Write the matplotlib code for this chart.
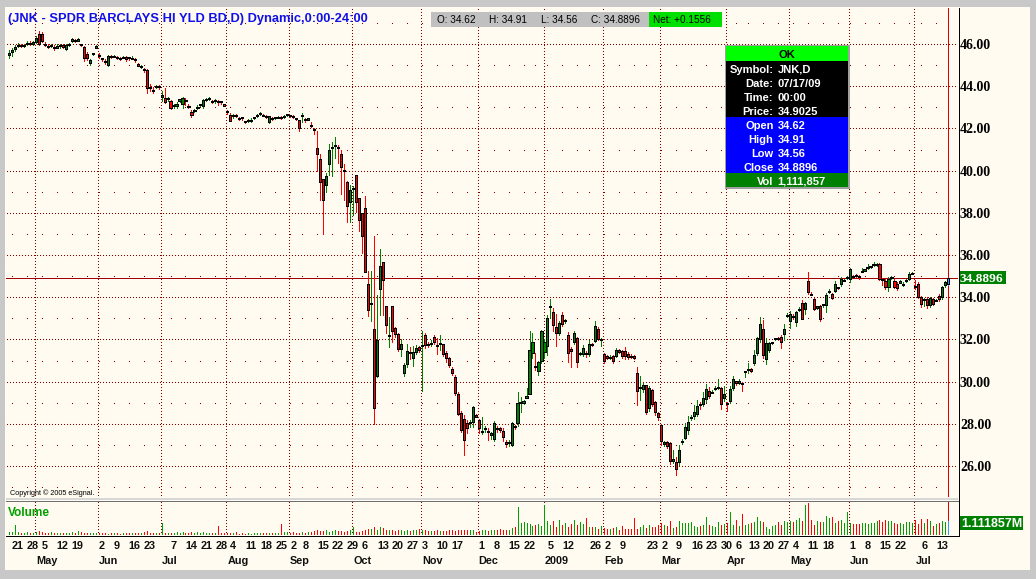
import matplotlib
matplotlib.use("Agg")
import matplotlib.pyplot as plt
from matplotlib.patches import Rectangle
from matplotlib.lines import Line2D
import numpy as np
import pandas as pd

plt.rcParams['lines.antialiased'] = False
plt.rcParams['patch.antialiased'] = False

W, H, DPI = 1036, 579, 100

# ---------------- data ----------------
holidays = ["2008-05-26", "2008-07-04", "2008-09-01", "2008-11-27", "2008-12-25",
            "2009-01-01", "2009-01-19", "2009-02-16", "2009-04-10", "2009-05-25", "2009-07-03"]
dates = pd.bdate_range("2008-04-18", "2009-07-17", freq="C", holidays=holidays)

opens = [
    45.50, 45.62, 45.78, 45.90, 45.95, 45.92, 45.98, 46.06, 46.02, 46.10,
    46.47, 46.47, 46.02, 45.90, 45.90, 45.86, 45.82, 45.90, 45.93, 45.78,
    45.95, 46.15, 46.20, 46.15, 45.97, 45.84, 45.52, 45.10, 45.55, 45.80,
    45.45, 45.30, 45.20, 45.02, 45.40, 45.40, 45.38, 45.32, 45.36, 45.38,
    45.36, 45.30, 45.30, 45.05, 44.92, 44.82, 44.78, 43.95, 43.83, 43.98,
    44.00, 43.48, 43.46, 43.40, 43.30, 43.05, 43.06, 43.33, 43.17, 43.32,
    43.05, 42.80, 42.85, 42.95, 43.12, 43.04, 43.36, 43.42, 43.27, 43.30,
    43.26, 43.27, 43.12, 42.80, 42.63, 42.61, 42.60, 42.48, 42.52, 42.32,
    42.34, 42.36, 42.48, 42.62, 42.70, 42.63, 42.56, 42.28, 42.48, 42.50,
    42.53, 42.52, 42.56, 42.64, 42.60, 42.56, 42.46, 42.38, 42.60, 42.42,
    42.44, 42.15, 41.95, 41.05, 40.57, 39.60, 39.30, 40.33, 41.05, 41.18,
    41.12, 40.78, 40.05, 39.48, 38.50, 39.16, 39.80, 38.70, 38.00, 38.24,
    34.64, 33.70, 32.50, 30.25, 34.38, 35.67, 33.60, 32.15, 33.60, 32.55,
    32.25, 31.55, 30.40, 30.85, 31.40, 31.10, 31.40, 31.62, 31.70, 32.20,
    31.78, 31.78, 32.10, 31.72, 31.78, 31.76, 31.37, 31.10, 30.62, 30.20,
    29.43, 28.50, 28.24, 28.05, 28.02, 28.08, 28.37, 28.16, 27.60, 27.78,
    27.65, 27.45, 27.30, 27.76, 27.78, 27.68, 27.15, 27.10, 27.00, 27.86,
    28.05, 29.00, 29.00, 29.27, 29.43, 31.35, 30.70, 30.48, 30.98, 31.38,
    31.70, 33.55, 33.29, 32.57, 32.29, 33.16, 32.89, 32.20, 31.55, 31.86,
    32.05, 31.35, 31.30, 31.35, 31.30, 31.78, 31.94, 32.50, 32.00, 31.30,
    31.18, 31.12, 31.22, 31.20, 31.45, 31.46, 31.44, 31.33, 31.22, 31.18,
    30.40, 29.70, 29.65, 29.84, 28.75, 29.60, 29.05, 28.50, 27.94, 27.05,
    27.15, 27.08, 26.22, 26.20, 26.20, 27.12, 27.35, 27.70, 28.30, 28.35,
    28.46, 28.95, 28.95, 29.17, 29.57, 29.50, 29.65, 29.70, 29.70, 29.20,
    29.00, 29.08, 29.70, 29.98, 29.98, 29.92, 30.46, 30.55, 30.62, 30.86,
    31.37, 32.03, 32.50, 31.05, 31.52, 31.84, 32.00, 32.03, 32.10, 32.25,
    33.14, 32.88, 33.10, 32.83, 33.40, 33.73, 33.42, 34.78, 34.15, 33.90,
    33.52, 33.58, 33.65, 33.65, 34.25, 34.15, 34.30, 34.44, 34.63, 34.78,
    34.92, 34.88, 35.00, 35.02, 35.00, 35.22, 35.28, 35.40, 35.45, 35.56,
    35.56, 35.56, 34.83, 34.78, 34.50, 34.92, 34.78, 34.63, 34.72, 34.60,
    34.78, 34.86, 35.12, 34.55, 34.63, 34.00, 33.88, 33.90, 33.63, 33.90,
    33.85, 34.08, 34.00, 34.56, 34.62]

highs = [
    45.70, 45.80, 45.95, 46.05, 46.02, 46.00, 46.15, 46.12, 46.15, 46.40,
    46.62, 46.55, 46.10, 45.98, 46.02, 45.95, 45.98, 45.98, 45.98, 45.98,
    46.05, 46.28, 46.24, 46.28, 46.00, 45.90, 45.60, 45.30, 45.58, 45.95,
    45.55, 45.35, 45.28, 45.50, 45.48, 45.48, 45.45, 45.40, 45.45, 45.42,
    45.40, 45.45, 45.35, 45.10, 45.00, 44.88, 44.80, 44.10, 43.95, 44.05,
    44.05, 43.75, 43.90, 43.48, 43.35, 43.15, 43.25, 43.40, 43.50, 43.42,
    43.15, 42.85, 42.92, 43.10, 43.18, 43.40, 43.42, 43.50, 43.35, 43.38,
    43.35, 43.32, 43.15, 42.85, 42.75, 42.66, 42.68, 42.55, 42.55, 42.36,
    42.45, 42.48, 42.55, 42.68, 42.76, 42.68, 42.62, 42.60, 42.55, 42.56,
    42.60, 42.58, 42.62, 42.70, 42.65, 42.62, 42.50, 42.42, 42.72, 42.48,
    42.50, 42.30, 42.00, 41.90, 40.80, 39.60, 39.90, 41.25, 41.35, 41.60,
    41.20, 41.00, 40.30, 39.50, 39.30, 39.25, 39.80, 38.70, 38.00, 38.80,
    35.25, 35.25, 36.90, 34.10, 36.30, 35.67, 33.60, 33.05, 33.60, 32.60,
    32.30, 32.00, 30.90, 31.80, 31.65, 31.70, 31.75, 31.70, 32.40, 32.30,
    31.90, 31.95, 32.20, 32.05, 32.20, 31.80, 31.45, 31.15, 30.70, 30.30,
    29.50, 28.60, 28.40, 28.20, 28.20, 28.85, 28.45, 28.22, 28.30, 27.90,
    27.80, 27.60, 28.15, 27.90, 27.85, 27.80, 27.25, 27.25, 28.10, 27.95,
    29.50, 29.25, 29.15, 29.70, 32.40, 32.30, 31.35, 31.00, 32.45, 32.00,
    33.15, 33.90, 33.50, 33.20, 32.85, 33.30, 32.95, 32.33, 31.62, 32.40,
    32.10, 31.42, 31.75, 31.45, 31.95, 31.85, 32.85, 32.60, 32.05, 31.35,
    31.25, 31.25, 31.25, 31.60, 31.55, 31.50, 31.65, 31.40, 31.30, 31.25,
    30.70, 30.25, 29.95, 29.85, 29.80, 29.65, 29.10, 28.55, 28.00, 27.20,
    27.20, 27.15, 26.75, 26.45, 27.00, 27.30, 28.05, 28.35, 28.40, 28.90,
    29.15, 29.05, 29.50, 29.90, 29.75, 29.60, 29.80, 30.10, 29.75, 29.80,
    29.05, 29.80, 30.25, 30.05, 30.10, 30.00, 30.50, 30.90, 30.65, 31.50,
    32.10, 33.05, 32.90, 32.05, 31.90, 31.90, 32.08, 32.10, 32.20, 32.75,
    33.25, 33.35, 33.20, 33.35, 33.55, 33.85, 33.75, 35.20, 34.25, 33.95,
    33.60, 33.65, 33.70, 34.20, 34.40, 34.20, 34.75, 34.50, 34.95, 34.85,
    35.00, 35.40, 35.05, 35.10, 35.05, 35.40, 35.35, 35.55, 35.50, 35.65,
    35.60, 35.60, 34.90, 34.85, 34.95, 35.00, 34.85, 34.70, 34.80, 34.70,
    34.85, 35.20, 35.20, 34.80, 34.70, 34.05, 33.95, 34.00, 34.00, 33.95,
    33.90, 34.15, 34.55, 34.75, 34.91]

lows = [
    45.35, 45.45, 45.65, 45.85, 45.85, 45.85, 45.95, 45.95, 45.95, 46.05,
    45.95, 46.10, 45.92, 45.80, 45.85, 45.72, 45.80, 45.80, 45.82, 45.72,
    45.92, 46.10, 46.10, 46.12, 45.92, 45.20, 45.25, 45.00, 45.50, 45.80,
    45.35, 45.20, 45.05, 44.95, 45.35, 45.38, 45.28, 45.25, 45.32, 45.20,
    45.25, 45.28, 45.15, 44.95, 44.88, 44.65, 43.70, 43.75, 43.70, 43.90,
    43.85, 43.30, 43.20, 43.30, 42.90, 42.95, 42.98, 43.25, 42.95, 43.10,
    42.95, 42.55, 42.80, 42.90, 43.05, 42.98, 43.30, 43.35, 43.20, 43.20,
    43.10, 43.18, 43.05, 42.70, 42.35, 42.50, 42.55, 42.40, 42.42, 42.25,
    42.30, 42.30, 42.45, 42.55, 42.65, 42.58, 42.50, 42.25, 42.42, 42.45,
    42.50, 42.45, 42.50, 42.60, 42.55, 42.50, 42.40, 41.90, 42.30, 42.30,
    42.38, 42.05, 41.75, 40.00, 38.60, 37.00, 39.00, 39.80, 39.75, 40.60,
    40.35, 38.90, 38.60, 37.55, 37.55, 37.90, 38.05, 37.15, 36.10, 35.20,
    33.10, 32.85, 28.00, 30.20, 33.15, 33.15, 32.30, 31.65, 31.90, 32.10,
    31.45, 31.20, 30.25, 30.70, 31.05, 30.75, 31.30, 31.40, 29.55, 31.60,
    31.65, 31.70, 31.80, 31.30, 31.50, 31.20, 30.95, 30.70, 30.30, 29.35,
    28.40, 27.60, 26.50, 27.55, 27.85, 27.85, 28.30, 27.55, 27.50, 27.60,
    27.25, 27.30, 27.20, 27.60, 27.60, 27.20, 26.90, 26.95, 26.95, 27.75,
    27.90, 28.55, 28.95, 29.20, 29.40, 31.10, 30.55, 30.30, 30.90, 31.10,
    31.25, 33.00, 32.40, 31.70, 32.20, 32.65, 32.80, 30.95, 30.70, 31.80,
    30.70, 31.25, 31.20, 31.15, 31.20, 31.70, 31.90, 31.95, 31.70, 30.90,
    31.05, 31.05, 30.90, 31.15, 31.35, 31.10, 31.05, 31.05, 31.10, 31.05,
    28.90, 29.15, 29.50, 28.45, 28.60, 28.85, 28.40, 28.20, 27.00, 26.95,
    26.85, 26.10, 26.15, 25.57, 26.05, 27.05, 27.30, 27.50, 28.20, 28.25,
    28.35, 28.70, 28.85, 29.05, 29.20, 29.45, 29.60, 29.65, 28.70, 29.10,
    28.60, 29.00, 29.60, 29.85, 29.90, 29.55, 30.20, 30.40, 30.45, 30.80,
    31.25, 31.90, 31.10, 30.85, 31.40, 31.80, 31.95, 31.95, 31.60, 31.95,
    33.05, 32.55, 32.95, 32.65, 33.35, 32.95, 33.20, 34.15, 34.10, 33.40,
    33.45, 32.85, 33.55, 33.30, 34.20, 33.90, 34.25, 34.40, 34.55, 34.75,
    34.85, 34.70, 34.95, 34.98, 34.85, 35.20, 35.25, 35.35, 35.40, 35.50,
    35.50, 34.80, 34.60, 34.40, 34.30, 34.85, 34.45, 34.35, 34.65, 34.55,
    34.70, 34.80, 35.10, 34.40, 33.95, 33.55, 33.60, 33.50, 33.55, 33.65,
    33.80, 33.80, 33.90, 34.50, 34.56]

closes = [
    45.58, 45.72, 45.85, 45.97, 45.90, 45.94, 46.06, 46.02, 46.08, 46.30,
    46.00, 46.15, 45.97, 45.84, 45.96, 45.80, 45.92, 45.93, 45.88, 45.95,
    46.00, 46.22, 46.15, 46.24, 45.95, 45.33, 45.33, 45.25, 45.55, 45.90,
    45.42, 45.30, 45.16, 45.43, 45.40, 45.43, 45.33, 45.29, 45.38, 45.30,
    45.32, 45.36, 45.24, 44.98, 44.93, 44.78, 43.92, 43.93, 43.78, 44.00,
    43.95, 43.58, 43.23, 43.43, 42.98, 43.10, 43.14, 43.36, 43.42, 43.30,
    43.02, 42.63, 42.88, 42.99, 43.15, 43.34, 43.39, 43.44, 43.25, 43.33,
    43.25, 43.24, 43.10, 42.79, 42.36, 42.63, 42.60, 42.47, 42.50, 42.30,
    42.40, 42.40, 42.52, 42.63, 42.72, 42.63, 42.55, 42.58, 42.47, 42.53,
    42.53, 42.52, 42.57, 42.67, 42.60, 42.54, 42.45, 42.03, 42.60, 42.38,
    42.45, 42.15, 41.95, 40.78, 39.46, 38.60, 39.75, 41.00, 41.10, 41.22,
    41.05, 40.19, 40.00, 38.30, 39.10, 39.16, 38.50, 37.65, 36.90, 35.20,
    33.37, 33.70, 28.75, 31.97, 35.46, 34.80, 32.70, 32.20, 32.40, 32.25,
    31.55, 31.80, 30.80, 31.45, 31.40, 31.40, 31.57, 31.50, 31.72, 31.73,
    31.75, 31.85, 31.90, 31.70, 31.80, 31.30, 31.13, 30.80, 30.40, 29.48,
    28.48, 27.70, 27.22, 27.80, 28.10, 28.80, 28.37, 27.80, 27.68, 27.80,
    27.65, 27.55, 28.05, 27.76, 27.72, 27.38, 27.05, 27.10, 28.05, 27.86,
    29.00, 29.00, 29.07, 29.27, 31.50, 31.86, 30.70, 30.95, 32.38, 31.90,
    33.00, 33.60, 32.70, 32.29, 32.76, 32.73, 32.89, 31.35, 31.45, 32.29,
    30.95, 31.35, 31.60, 31.33, 31.80, 31.78, 32.62, 32.00, 32.00, 30.98,
    31.15, 31.15, 31.00, 31.48, 31.45, 31.20, 31.20, 31.17, 31.20, 31.15,
    29.54, 29.70, 29.85, 28.54, 29.70, 28.95, 28.54, 28.30, 27.20, 27.12,
    26.97, 26.25, 26.32, 25.85, 26.75, 27.20, 27.84, 28.10, 28.30, 28.57,
    28.86, 28.90, 29.22, 29.65, 29.30, 29.50, 29.70, 29.70, 28.94, 29.40,
    28.95, 29.67, 30.13, 29.98, 29.98, 29.92, 30.46, 30.62, 30.50, 31.24,
    32.08, 32.75, 31.24, 31.84, 31.84, 31.84, 32.05, 32.03, 31.90, 32.48,
    33.14, 33.22, 33.10, 33.30, 33.45, 32.98, 33.73, 34.23, 34.15, 33.45,
    33.55, 32.98, 33.65, 34.10, 34.30, 33.97, 34.63, 34.44, 34.86, 34.80,
    34.95, 35.34, 35.00, 35.00, 34.95, 35.22, 35.30, 35.40, 35.45, 35.56,
    35.56, 34.86, 34.83, 34.48, 34.86, 34.95, 34.48, 34.44, 34.72, 34.62,
    34.80, 35.10, 35.15, 34.48, 34.00, 33.66, 33.90, 33.63, 33.97, 33.70,
    33.85, 33.90, 34.50, 34.72, 34.8896]

# volume in millions of shares
volumes = [
    0.20, 0.25, 0.78, 0.20, 0.15, 0.18, 0.20, 0.15, 0.18,                         # Apr 08
    0.20, 0.30, 0.20, 0.15, 0.18, 0.20, 0.15, 0.13, 0.15, 0.18, 0.15,
    0.15, 0.20, 0.15, 0.30, 0.20, 0.15, 0.18, 0.13, 0.12, 0.15,                   # May
    0.13, 0.12, 0.13, 0.10, 0.12, 0.13, 0.12, 0.10, 0.12, 0.13, 0.12,
    0.13, 0.15, 0.12, 0.15, 0.20, 0.30, 0.15, 0.13, 0.15, 0.12,                   # Jun
    0.90, 0.15, 0.13, 0.15, 0.13, 0.25, 0.15, 0.20, 0.13, 0.15, 0.20,
    0.15, 0.20, 0.15, 0.20, 0.15, 0.13, 0.12, 0.15, 0.70, 0.15, 0.12,             # Jul
    0.13, 0.15, 0.12, 0.25, 0.10, 0.12, 0.10, 0.12, 0.10, 0.12, 0.13,
    0.12, 0.12, 0.15, 0.12, 0.13, 0.15, 0.12, 0.85, 0.25, 0.20,                   # Aug
    0.15, 0.20, 0.15, 0.15, 0.20, 0.15, 0.20, 0.25, 0.30, 0.35, 0.30,
    0.30, 0.35, 0.25, 0.30, 0.35, 0.30, 0.30, 0.25, 0.30, 0.35,                   # Sep
    0.65, 0.20, 0.25, 0.30, 0.35, 0.45, 0.50, 0.60, 0.40, 0.60, 0.55, 0.40,
    0.35, 0.40, 0.30, 0.35, 0.40, 0.30, 0.35, 0.30, 0.40, 0.35, 0.50,             # Oct
    0.40, 0.35, 0.30, 0.30, 0.30, 0.35, 0.30, 0.30, 0.30, 0.35,
    0.35, 0.30, 0.35, 0.40, 0.40, 0.35, 0.35, 0.35, 0.20,                         # Nov
    0.30, 0.35, 0.40, 0.30, 0.35, 0.35, 0.40, 0.50, 0.40, 0.35, 0.35,
    0.55, 0.65, 2.20, 0.95, 1.00, 0.90, 0.85, 0.70, 0.80, 0.85, 0.70,             # Dec
    2.30, 1.05, 0.80, 1.10, 0.60, 1.15, 0.80, 0.95, 0.60, 0.85,
    1.20, 0.75, 1.00, 0.85, 1.30, 0.65, 0.60, 0.65, 0.50, 0.70,                   # Jan 09
    0.55, 0.50, 0.45, 0.55, 0.60, 0.35, 0.70, 0.50, 0.45, 0.50,
    1.30, 0.45, 0.60, 0.75, 0.55, 0.80, 0.65, 0.60, 0.80,                         # Feb
    0.90, 0.80, 0.70, 1.10, 0.55, 0.65, 1.10, 0.95, 0.90, 0.95, 1.00,
    0.70, 0.60, 0.70, 0.75, 1.40, 0.80, 0.70, 0.60, 1.00, 0.75, 0.85,             # Mar
    0.90, 1.80, 0.80, 1.20, 0.70, 1.65, 0.75, 0.85, 0.95, 1.00, 1.40,
    1.05, 1.00, 0.60, 0.50, 0.70, 0.80, 1.00, 0.75, 1.05, 1.00,                   # Apr
    1.05, 1.00, 1.20, 1.30, 1.10, 2.30, 2.45, 1.20, 0.80, 1.10,
    1.00, 1.00, 1.50, 1.35, 1.40, 0.90, 1.10, 1.15, 0.90, 1.75,                   # May
    0.90, 0.85, 0.85, 0.85, 0.90, 0.95, 0.85, 0.95, 0.95, 1.10, 1.15,
    1.00, 1.20, 1.05, 1.10, 0.90, 0.85, 0.90, 0.85, 1.00, 1.00, 0.90,             # Jun
    1.20, 0.85, 1.25, 0.95, 1.25, 1.05, 0.70, 0.85, 0.95, 1.10, 1.00, 1.111857]  # Jul

week_labels = [
    ("2008-04-21", "21"), ("2008-04-28", "28"), ("2008-05-05", "5"), ("2008-05-12", "12"),
    ("2008-05-19", "19"), ("2008-06-02", "2"), ("2008-06-09", "9"), ("2008-06-16", "16"),
    ("2008-06-23", "23"), ("2008-07-07", "7"), ("2008-07-14", "14"), ("2008-07-21", "21"),
    ("2008-07-28", "28"), ("2008-08-04", "4"), ("2008-08-11", "11"), ("2008-08-18", "18"),
    ("2008-08-25", "25"), ("2008-09-02", "2"), ("2008-09-08", "8"), ("2008-09-15", "15"),
    ("2008-09-22", "22"), ("2008-09-29", "29"), ("2008-10-06", "6"), ("2008-10-13", "13"),
    ("2008-10-20", "20"), ("2008-10-27", "27"), ("2008-11-03", "3"), ("2008-11-10", "10"),
    ("2008-11-17", "17"), ("2008-12-01", "1"), ("2008-12-08", "8"), ("2008-12-15", "15"),
    ("2008-12-22", "22"), ("2009-01-05", "5"), ("2009-01-12", "12"), ("2009-01-26", "26"),
    ("2009-02-02", "2"), ("2009-02-09", "9"), ("2009-02-23", "23"), ("2009-03-02", "2"),
    ("2009-03-09", "9"), ("2009-03-16", "16"), ("2009-03-23", "23"), ("2009-03-30", "30"),
    ("2009-04-06", "6"), ("2009-04-13", "13"), ("2009-04-20", "20"), ("2009-04-27", "27"),
    ("2009-05-04", "4"), ("2009-05-11", "11"), ("2009-05-18", "18"), ("2009-06-01", "1"),
    ("2009-06-08", "8"), ("2009-06-15", "15"), ("2009-06-22", "22"), ("2009-07-06", "6"),
    ("2009-07-13", "13")]

month_labels = [
    ("2008-05-01", "May"), ("2008-06-02", "Jun"), ("2008-07-01", "Jul"), ("2008-08-01", "Aug"),
    ("2008-09-02", "Sep"), ("2008-10-01", "Oct"), ("2008-11-03", "Nov"), ("2008-12-01", "Dec"),
    ("2009-01-02", "2009"), ("2009-02-02", "Feb"), ("2009-03-02", "Mar"), ("2009-04-01", "Apr"),
    ("2009-05-01", "May"), ("2009-06-01", "Jun"), ("2009-07-01", "Jul")]

price_ticks = [26, 28, 30, 32, 34, 36, 38, 40, 42, 44, 46]
last_price = 34.8896
symbol_info = [("Symbol:", "JNK,D"), ("Date:", "07/17/09"), ("Time:", "00:00"), ("Price:", "34.9025")]
ohlc_info = [("Open", "34.62"), ("High", "34.91"), ("Low", "34.56"), ("Close", "34.8896")]
vol_info = ("Vol", "1,111,857")
title = "(JNK - SPDR BARCLAYS HI YLD BD,D) Dynamic,0:00-24:00"

# ---------------- style ----------------
BG = "#FFFBF0"
FRAME = "#C8C8C8"
GRID = "#800000"
RED = "#FF0000"
GREEN = "#008000"
VGREEN = "#00A000"
BLUE = "#3399FF"
SANS = "Liberation Sans"
SERIF = "Liberation Serif"

fig = plt.figure(figsize=(W / DPI, H / DPI), dpi=DPI, facecolor=BG)


def fx(px):
    return px / W


def fy(py):
    return 1 - py / H


def frect(x0, y0, x1, y1, color, z=1, ec="none", lw=0):
    fig.add_artist(Rectangle((fx(x0), fy(y1)), (x1 - x0) / W, (y1 - y0) / H,
                             transform=fig.transFigure, facecolor=color,
                             edgecolor=ec, linewidth=lw, zorder=z))


def fline(x0, y0, x1, y1, color, lw=0.72, z=5):
    fig.add_artist(Line2D([fx(x0), fx(x1)], [fy(y0), fy(y1)], transform=fig.transFigure,
                          color=color, lw=lw, zorder=z))


def ftext(x, y, s, **kw):
    kw.setdefault("family", SANS)
    kw.setdefault("va", "baseline")
    fig.text(fx(x), fy(y), s, **kw)


# geometry (pixels)
PL, PR = 6, 958
PT, PB = 8, 497
VT, VB = 501, 535
X0, DX = 9.0, 2.9914          # pixel of bar 0, pixel step per bar
PY46, PPU = 44.0, 21.1        # pixel of price 46, pixels per unit
VPM = 12.9                    # volume pixels per million


def idx_at(px):
    return (px - X0) / DX


def price_at(py):
    return 46 - (py - PY46) / PPU


xlim = (idx_at(PL), idx_at(PR))
ylim = (price_at(PB), price_at(PT))

ax = fig.add_axes([fx(PL), fy(PB), (PR - PL) / W, (PB - PT) / H])
ax.set_xlim(*xlim)
ax.set_ylim(*ylim)
ax.axis("off")

vax = fig.add_axes([fx(PL), fy(VB), (PR - PL) / W, (VB - VT) / H])
vax.set_xlim(*xlim)
vax.set_ylim(0, (VB - VT) / VPM)
vax.axis("off")

o = np.array(opens)
h = np.array(highs)
l = np.array(lows)
c = np.array(closes)
v = np.array(volumes)
n = len(c)
ix = np.arange(n)
pos = {d: i for i, d in enumerate(dates.strftime("%Y-%m-%d"))}

prev = np.concatenate([[c[0]], c[:-1]])
up = np.where(c > o, True, np.where(c < o, False, c >= prev))
col = np.where(up, GREEN, RED).astype(object)
vcol = np.where(up, VGREEN, RED).astype(object)
col[-1] = BLUE
vcol[-1] = BLUE

DOT = dict(linestyle="none", marker="s", ms=0.75, mew=0, color=GRID, zorder=1)
# major horizontal dotted grid (a dot every 3 px)
hx = idx_at(np.arange(PL + 1, PR, 3))
for p in price_ticks:
    ax.plot(hx, np.full(hx.shape, p), **DOT)
# monthly vertical dotted grid
month_idx = [pos[d] for d, _ in month_labels]
vy_p = price_at(np.arange(PT + 1, PB, 3))
vy_v = (VB - np.arange(VT + 1, VB, 3)) / VPM
for m in month_idx:
    ax.plot(np.full(vy_p.shape, m - 0.3), vy_p, **DOT)
    vax.plot(np.full(vy_v.shape, m - 0.3), vy_v, **DOT)
# minor dots: weekly x odd prices
iso = dates.isocalendar()
wk_first = pd.Series(ix, index=dates).groupby([iso.year.values, iso.week.values]).min().values
wk_first = wk_first[wk_first > 0]
odd = np.arange(25, 48, 2)
gx, gy = np.meshgrid(wk_first, odd)
ax.plot(gx.ravel(), gy.ravel(), **DOT)

# crosshair
ax.axhline(last_price, color="#A00000", lw=0.5, zorder=2)
ax.axvline(n - 1, color="#E00000", lw=0.5, zorder=2)
vax.axvline(n - 1, color="#E00000", lw=0.5, zorder=1)

# candles
ax.vlines(ix, l, h, colors=list(col), lw=0.72, zorder=3)
bh = np.maximum(np.abs(c - o), 0.05)
mid = (o + c) / 2
ax.bar(ix, bh, bottom=mid - bh / 2, width=0.7, color=list(col), edgecolor="black",
       linewidth=0.7, zorder=4)

# volume
vax.vlines(ix, 0, v, colors=list(vcol), lw=0.72, zorder=3)

# ---------------- frame ----------------
frect(0, 0, W, 7, FRAME, z=0.5)
frect(0, 0, 5, H, FRAME, z=0.5)
frect(1030, 0, W, H, FRAME, z=0.5)
frect(0, 570, W, H, FRAME, z=0.5)
frect(PL, PB + 1, PR, VT - 1, "#D8D8D8", z=0.6)
fline(PL, VT - 0.5, PR, VT - 0.5, "#707070")
fline(PR + 0.5, PT, PR + 0.5, VB + 1, "black")
fline(PL, VB + 0.5, PR, VB + 0.5, "black")

# ---------------- texts ----------------
ftext(8, 21.7, title, color="#1010E8", weight="bold", size=9.3)

# info strip
frect(431, 12, 649, 27, "#C0C0C0", z=2)
frect(649, 12, 722, 27, "#00E000", z=2)
for xx, s in [(437, "O: 34.62"), (489, "H: 34.91"), (541, "L: 34.56"), (591, "C: 34.8896"),
              (653, "Net: +0.1556")]:
    ftext(xx, 22.7, s, size=7.2, color="black", zorder=3)

# data window
frect(725, 45, 850, 189, "#A0A0A0", z=2)
frect(726, 46, 848, 61, "#00FF00", z=2.1)
frect(726, 61, 848, 117, "#000000", z=2.1)
frect(726, 117, 848, 173, "#0000FF", z=2.1)
frect(726, 173, 848, 187, "#008000", z=2.1)
ftext(787, 58, "OK", ha="center", weight="bold", size=8, color="black", zorder=3)
for k, (lab, val) in enumerate(symbol_info):
    yb = 73 + 14 * k
    ftext(773.5, yb, lab, ha="right", weight="bold", size=8, color="white", zorder=3)
    ftext(777.5, yb, val, ha="left", weight="bold", size=8, color="white", zorder=3)
for k, (lab, val) in enumerate(ohlc_info):
    yb = 129 + 14 * k
    ftext(773.5, yb, lab, ha="right", weight="bold", size=8, color="white", zorder=3)
    ftext(777.5, yb, val, ha="left", weight="bold", size=8, color="white", zorder=3)
ftext(773.5, 185, vol_info[0], ha="right", weight="bold", size=8, color="white", zorder=3)
ftext(777.5, 185, vol_info[1], ha="left", weight="bold", size=8, color="white", zorder=3)

# price axis labels
for p in price_ticks:
    yy = PY46 + (46 - p) * PPU
    ftext(960, yy + 5, f"{p:.2f}", family=SERIF, weight="bold", size=10, color="black")
ylast = PY46 + (46 - last_price) * PPU
frect(959, ylast - 7.5, 1006, ylast + 5.5, "#008000", z=3)
ftext(960, ylast + 3.5, f"{last_price:.4f}", family=SERIF, weight="bold", size=9.6,
      color="white", zorder=4)

# volume box
frect(960, 516, 1023, 530, "#008000", z=3)
ftext(961, 527, f"{volumes[-1]:.6f}M", weight="bold", size=9, color="white", zorder=4)
ftext(8, 516, "Volume", color="#00A000", weight="bold", size=8.6)
ftext(10, 495, "Copyright \u00a9 2005 eSignal.", size=5.2, color="black")

# date labels
for d, s in week_labels:
    xx = X0 + DX * pos[d]
    ftext(xx, 549, s, weight="bold", size=7.8, color="#101010")
for d, s in month_labels:
    xx = X0 + DX * pos[d]
    ftext(xx, 563.5, s, weight="bold", size=7.8, color="#101010")

fig.savefig("out.png", dpi=DPI, facecolor=BG)
